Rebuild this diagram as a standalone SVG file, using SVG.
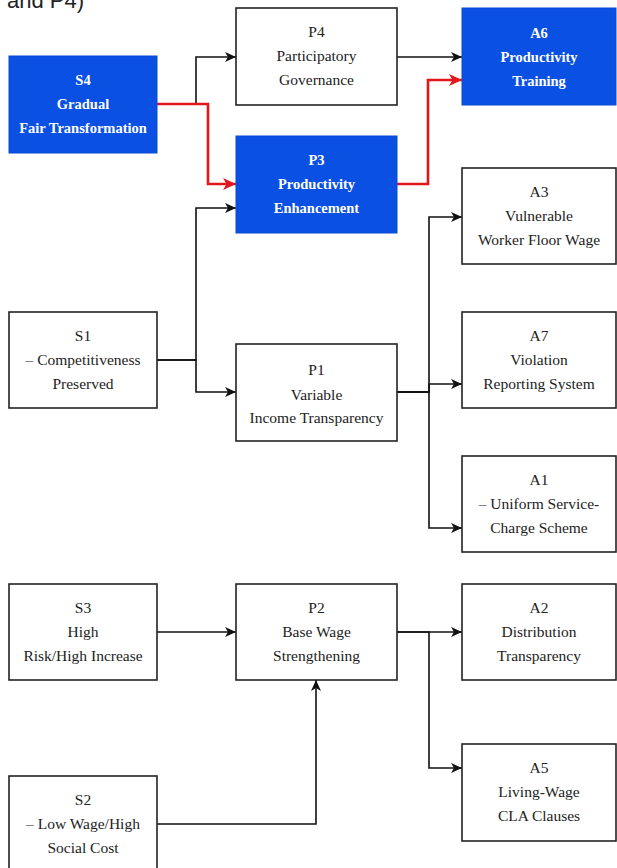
<svg xmlns="http://www.w3.org/2000/svg" width="617" height="868" viewBox="0 0 617 868">
<defs>
<marker id="ab" markerUnits="userSpaceOnUse" markerWidth="12" markerHeight="12" viewBox="0 0 12 12" refX="11" refY="6" orient="auto">
<path d="M0,1 L11,6 L0,11 L3,6 z" fill="#111"/>
</marker>
<marker id="ar" markerUnits="userSpaceOnUse" markerWidth="14" markerHeight="14" viewBox="0 0 14 14" refX="13" refY="7" orient="auto">
<path d="M0,1 L13,7 L0,13 L3.5,7 z" fill="#e3161a"/>
</marker>
<style>
.box{fill:#fff;stroke:#222;stroke-width:1.6}
.blue{fill:#0a50e3;stroke:#0a4bd6;stroke-width:1}
.t{font-family:'Liberation Serif','Times New Roman','DejaVu Serif',serif;font-size:15.5px;fill:#222;text-anchor:middle}
.w{fill:#fff;font-weight:bold;font-size:14.5px}
.c{fill:none;stroke:#111;stroke-width:1.6;marker-end:url(#ab)}
.r{fill:none;stroke:#e3161a;stroke-width:2.6;marker-end:url(#ar)}
</style>
</defs>
<rect width="617" height="868" fill="#fff"/>
<text x="7" y="8" font-family="Liberation Sans, Arial, sans-serif" font-size="22" fill="#222">and P4)</text>

<g id="connectors">
<path class="c" d="M157,104 H196 V57 H236"/>
<path class="c" d="M397,57 H462"/>
<path class="c" d="M157,360 H196 V208 H236"/>
<path class="c" d="M157,360 H196 V392 H236"/>
<path class="c" d="M397,392 H429 V217 H462"/>
<path class="c" d="M397,392 H429 V384 H462"/>
<path class="c" d="M397,392 H429 V528 H462"/>
<path class="c" d="M157,632 H236"/>
<path class="c" d="M157,824 H316 V680"/>
<path class="c" d="M397,632 H462"/>
<path class="c" d="M397,632 H429 V768 H462"/>
<path class="r" d="M157,104 H208 V184 H236"/>
<path class="r" d="M397,184 H428 V80 H462"/>
</g>

<g id="S4">
<rect class="blue" x="9" y="56" width="148" height="97"/>
<text class="t w" x="83" y="85">S4</text>
<text class="t w" x="83" y="109">Gradual</text>
<text class="t w" x="83" y="133">Fair Transformation</text>
</g>
<g id="P4">
<rect class="box" x="236" y="8" width="161" height="97"/>
<text class="t" x="316.5" y="37">P4</text>
<text class="t" x="316.5" y="61">Participatory</text>
<text class="t" x="316.5" y="85">Governance</text>
</g>
<g id="A6">
<rect class="blue" x="462" y="8" width="154" height="97"/>
<text class="t w" x="539" y="38">A6</text>
<text class="t w" x="539" y="62">Productivity</text>
<text class="t w" x="539" y="86">Training</text>
</g>
<g id="P3">
<rect class="blue" x="236" y="136" width="161" height="97"/>
<text class="t w" x="316.5" y="165">P3</text>
<text class="t w" x="316.5" y="189">Productivity</text>
<text class="t w" x="316.5" y="213">Enhancement</text>
</g>
<g id="A3">
<rect class="box" x="462" y="168" width="154" height="96"/>
<text class="t" x="539" y="197">A3</text>
<text class="t" x="539" y="221">Vulnerable</text>
<text class="t" x="539" y="245">Worker Floor Wage</text>
</g>
<g id="S1">
<rect class="box" x="9" y="312" width="148" height="96"/>
<text class="t" x="83" y="341">S1</text>
<text class="t" x="83" y="365">– Competitiveness</text>
<text class="t" x="83" y="389">Preserved</text>
</g>
<g id="P1">
<rect class="box" x="236" y="344" width="161" height="97"/>
<text class="t" x="316.5" y="375" font-size="20">P1</text>
<text class="t" x="316.5" y="400">Variable</text>
<text class="t" x="316.5" y="423">Income Transparency</text>
</g>
<g id="A7">
<rect class="box" x="462" y="312" width="154" height="96"/>
<text class="t" x="539" y="341">A7</text>
<text class="t" x="539" y="365">Violation</text>
<text class="t" x="539" y="389">Reporting System</text>
</g>
<g id="A1">
<rect class="box" x="462" y="456" width="154" height="96"/>
<text class="t" x="539" y="485">A1</text>
<text class="t" x="539" y="509">– Uniform Service-</text>
<text class="t" x="539" y="533">Charge Scheme</text>
</g>
<g id="S3">
<rect class="box" x="9" y="584" width="148" height="96"/>
<text class="t" x="83" y="613">S3</text>
<text class="t" x="83" y="637">High</text>
<text class="t" x="83" y="661">Risk/High Increase</text>
</g>
<g id="P2">
<rect class="box" x="236" y="584" width="161" height="96"/>
<text class="t" x="316.5" y="613">P2</text>
<text class="t" x="316.5" y="637">Base Wage</text>
<text class="t" x="316.5" y="661">Strengthening</text>
</g>
<g id="A2">
<rect class="box" x="462" y="584" width="154" height="96"/>
<text class="t" x="539" y="613">A2</text>
<text class="t" x="539" y="637">Distribution</text>
<text class="t" x="539" y="661">Transparency</text>
</g>
<g id="A5">
<rect class="box" x="462" y="744" width="154" height="97"/>
<text class="t" x="539" y="773">A5</text>
<text class="t" x="539" y="797">Living-Wage</text>
<text class="t" x="539" y="821">CLA Clauses</text>
</g>
<g id="S2">
<rect class="box" x="9" y="776" width="148" height="96"/>
<text class="t" x="83" y="805">S2</text>
<text class="t" x="83" y="829">– Low Wage/High</text>
<text class="t" x="83" y="853">Social Cost</text>
</g>
</svg>
